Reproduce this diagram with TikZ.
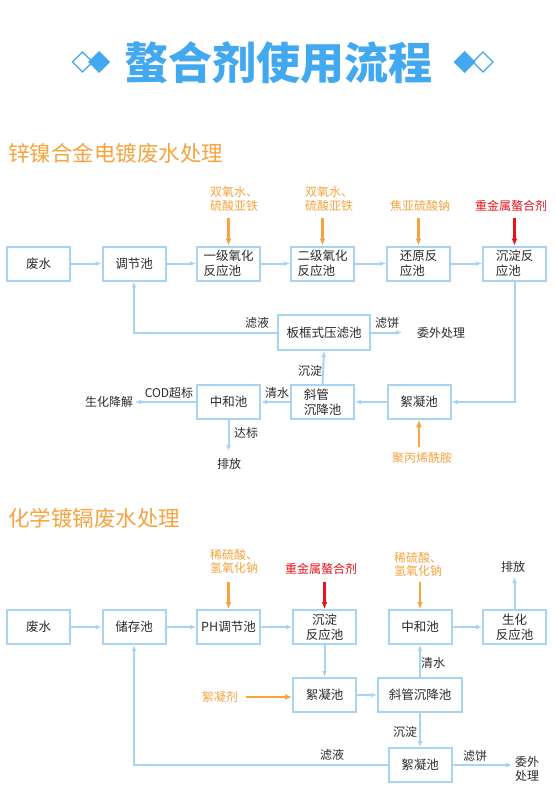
\documentclass[tikz,border=0pt]{standalone}
\usepackage{fontspec}
\setmainfont{Noto Sans CJK SC}
\usetikzlibrary{arrows.meta}
\definecolor{boxc}{HTML}{A8D3F2}
\definecolor{linec}{HTML}{A8D3F2}
\definecolor{txt}{HTML}{2A2A2A}
\definecolor{orng}{HTML}{F5A440}
\definecolor{redc}{HTML}{E8141B}
\definecolor{ttl}{HTML}{42A8F0}
\begin{document}
\begin{tikzpicture}[x=1pt,y=-1pt,
  box/.style={draw=boxc, line width=2pt, minimum width=63pt, minimum height=34pt, inner sep=1pt, font=\fontsize{12.5}{15}\selectfont, text=txt, fill=white},
  lab/.style={font=\fontsize{12}{14}\selectfont, text=txt, inner sep=0pt, align=center},
  rea/.style={font=\fontsize{12}{13.5}\selectfont, text=orng, inner sep=0pt, align=left},
  flow/.style={draw=linec, line width=2pt, -{Latex[length=6pt,width=5pt]}},
  plain/.style={draw=linec, line width=2pt},
  oarr/.style={draw=orng, line width=2.5pt, -{Latex[length=7pt,width=6pt]}},
  rarr/.style={draw=redc, line width=2.5pt, -{Latex[length=7pt,width=6pt]}},
  hdr/.style={font=\fontsize{21.5}{24}\selectfont, text=orng, anchor=west, inner sep=0pt},
  dmo/.style={draw=ttl, line width=1.3pt, fill=white},
  dmf/.style={fill=ttl}
]
\useasboundingbox (0,0) rectangle (556,800);
\fill[white] (0,0) rectangle (556,800);

% title
\node[font=\fontsize{44}{48}\selectfont\bfseries, text=ttl, inner sep=0pt] (title) at (278,63) {螯合剂使用流程};
\draw[dmo] (72.5,62) -- (82.5,52) -- (92.5,62) -- (82.5,72) -- cycle;
\fill[dmf] (88,62) -- (99,51) -- (110,62) -- (99,73) -- cycle;
\draw[dmo] (473,62) -- (483,52) -- (493,62) -- (483,72) -- cycle;
\fill[dmf] (453.5,62) -- (464.5,51) -- (475.5,62) -- (464.5,73) -- cycle;

% section 1
\node[hdr] (h1) at (8,153) {锌镍合金电镀废水处理};

\node[box] (a1) at (38.5,263.5) {废水};
\node[box] (a2) at (134,263.5) {调节池};
\node[box, align=left] (a3) at (228.5,263.5) {一级氧化\\反应池};
\node[box, align=left] (a4) at (322.5,263.5) {二级氧化\\反应池};
\node[box, align=left] (a5) at (418.5,263.5) {还原反\\应池};
\node[box, align=left] (a6) at (514.5,263.5) {沉淀反\\应池};
\node[box, minimum width=92pt, minimum height=35pt] (bk) at (324,332.5) {板框式压滤池};
\node[box] (xn) at (419,402) {絮凝池};
\node[box, align=left] (xg) at (322.5,402) {斜管\\沉降池};
\node[box] (zh) at (228.5,402) {中和池};

\node[rea] (r1) at (234,199) {双氧水、\\硫酸亚铁};
\node[rea] (r2) at (329,199) {双氧水、\\硫酸亚铁};
\node[rea] (r3) at (420,206) {焦亚硫酸钠};
\node[rea, text=redc] (r4) at (511,206) {重金属螯合剂};
\node[rea] (r5) at (422,458) {聚丙烯酰胺};

\coordinate (r1a) at (228.5,218);
\coordinate (r2a) at (322.5,218);
\coordinate (r3a) at (418.5,218);
\coordinate (r4a) at (514.5,218);
\coordinate (r5a) at (419,447);
\draw[oarr] (r1a) -- (a3.north);
\draw[oarr] (r2a) -- (a4.north);
\draw[oarr] (r3a) -- (a5.north);
\draw[rarr] (r4a) -- (a6.north);
\draw[oarr] (r5a) -- (xn.south);

\draw[flow] (a1) -- (a2);
\draw[flow] (a2) -- (a3);
\draw[flow] (a3) -- (a4);
\draw[flow] (a4) -- (a5);
\draw[flow] (a5) -- (a6);
\draw[flow] (a6.south) |- (xn.east);
\draw[flow] (xn) -- (xg);
\draw[flow] (xg) -- (zh);
\draw[flow] (xg.north) -- (bk.south);
\draw[flow] (bk.west) -| (a2.south);
\coordinate (bke) at (402,332.5);
\draw[flow] (bk.east) -- (bke);
\coordinate (zhw) at (135,402);
\draw[flow] (zh.west) -- (zhw);
\coordinate (zhs) at (228.5,451);
\draw[flow] (zh.south) -- (zhs);

\node[lab] (l1) at (257,323) {滤液};
\node[lab] (l2) at (387,323) {滤饼};
\node[lab] (l3) at (441,333) {委外处理};
\node[lab] (l4) at (310,371) {沉淀};
\node[lab] (l5) at (277,393) {清水};
\node[lab] (l6) at (169,393) {COD超标};
\node[lab] (l7) at (109,402) {生化降解};
\node[lab] (l8) at (246,433) {达标};
\node[lab] (l9) at (229,463.5) {排放};

% section 2
\node[hdr] (h2) at (8,518) {化学镀镉废水处理};

\node[box] (b1) at (38.5,627) {废水};
\node[box] (b2) at (134,627) {储存池};
\node[box] (b3) at (228.5,627) {PH调节池};
\node[box, align=center] (b4) at (324.5,627) {沉淀\\反应池};
\node[box] (b5) at (420,627) {中和池};
\node[box, align=center] (b6) at (514.5,627) {生化\\反应池};
\node[box] (c1) at (324.5,695) {絮凝池};
\node[box, minimum width=84pt] (c2) at (420,695) {斜管沉降池};
\node[box] (c3) at (420,765) {絮凝池};

\node[rea] (s1) at (234,561.5) {稀硫酸、\\氢氧化钠};
\node[rea, text=redc] (s2) at (321,569) {重金属螯合剂};
\node[rea] (s3) at (418,564.5) {稀硫酸、\\氢氧化钠};
\node[rea, anchor=east] (s4) at (238,697) {絮凝剂};

\coordinate (s1a) at (228.5,582);
\coordinate (s2a) at (324.5,582);
\coordinate (s3a) at (420,582);
\coordinate (s4a) at (246,697);
\draw[oarr] (s1a) -- (b3.north);
\draw[rarr] (s2a) -- (b4.north);
\draw[oarr] (s3a) -- (b5.north);
\draw[oarr] (s4a) -- (c1.west |- s4a);

\draw[flow] (b1) -- (b2);
\draw[flow] (b2) -- (b3);
\draw[flow] (b3) -- (b4);
\draw[flow] (b5) -- (b6);
\coordinate (b6n) at (514.5,577);
\draw[flow] (b6.north) -- (b6n);
\draw[flow] (b4.south) -- (c1.north);
\draw[flow] (c1) -- (c2);
\draw[flow] (c2.north) -- (b5.south);
\draw[flow] (c2.south) -- (c3.north);
\draw[flow] (c3.west) -| (b2.south);
\coordinate (c3e) at (512,765);
\draw[flow] (c3.east) -- (c3e);

\node[lab] (m1) at (513,566.5) {排放};
\node[lab] (m2) at (433,663) {清水};
\node[lab] (m3) at (405,732) {沉淀};
\node[lab] (m4) at (332,755) {滤液};
\node[lab] (m5) at (475,756) {滤饼};
\node[lab, font=\fontsize{12}{14}\selectfont] (m6) at (527,769) {委外\\处理};
\end{tikzpicture}
\end{document}
